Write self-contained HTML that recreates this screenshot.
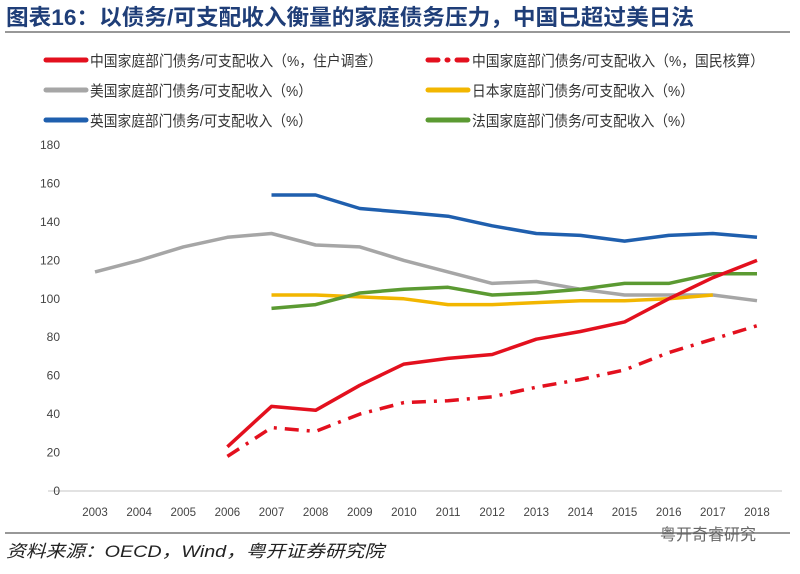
<!DOCTYPE html>
<html><head><meta charset="utf-8"><style>
body{margin:0;background:#fff;width:800px;height:569px;overflow:hidden;font-family:"Liberation Sans","Noto Sans CJK SC",sans-serif}
</style></head><body>
<svg id="c" width="800" height="569" xmlns="http://www.w3.org/2000/svg">
<text x="6" y="25" font-size="22" font-weight="bold" fill="#1f3e78" textLength="688" lengthAdjust="spacingAndGlyphs" font-family="Liberation Sans,Noto Sans CJK SC,sans-serif">图表16：以债务/可支配收入衡量的家庭债务压力，中国已超过美日法</text>
<line x1="5" y1="32" x2="790" y2="32" stroke="#777" stroke-width="1.5"/>
<line x1="5" y1="533" x2="790" y2="533" stroke="#777" stroke-width="1.5"/>
<text x="6" y="557" font-size="17" font-style="italic" fill="#222" textLength="378" lengthAdjust="spacingAndGlyphs" font-family="Liberation Sans,Noto Sans CJK SC,sans-serif">资料来源：OECD，Wind，粤开证券研究院</text>
<text x="660" y="540" font-size="16" fill="#666" font-family="Liberation Sans,Noto Sans CJK SC,sans-serif">粤开奇睿研究</text>
<g id="axes"></g><g id="series"></g><g id="legend"></g>
</svg>
<script>
const years=[2003,2004,2005,2006,2007,2008,2009,2010,2011,2012,2013,2014,2015,2016,2017,2018];
const yTicks=[0,20,40,60,80,100,120,140,160,180];
const chinaSurvey=[null,null,null,23,44,42,55,66,69,71,79,83,88,100,111,120];
const chinaNational=[null,null,null,18,33,31,40,46,47,49,54,58,63,72,79,86];
const usa=[114,120,127,132,134,128,127,120,114,108,109,105,102,102,102,99];
const japan=[null,null,null,null,102,102,101,100,97,97,98,99,99,100,102,null];
const uk=[null,null,null,null,154,154,147,145,143,138,134,133,130,133,134,132];
const france=[null,null,null,null,95,97,103,105,106,102,103,105,108,108,113,113];
const NS="http://www.w3.org/2000/svg";
const x=i=>95+i*44.13, y=v=>491-v*1.922;
function mk(t,a,p){const e=document.createElementNS(NS,t);for(const k in a)e.setAttribute(k,a[k]);p.appendChild(e);return e;}
const ax=document.getElementById('axes');
const al=mk('line',{x1:48,x2:782,y1:491,y2:491,stroke:'#d9d9d9','stroke-width':1.5},ax);


yTicks.forEach(v=>{const t=mk('text',{x:60,y:y(v)+4,'text-anchor':'end','font-size':12,fill:'#444'},ax);t.textContent=v;

});
years.forEach((yr,i)=>{const t=mk('text',{x:x(i),y:516,'text-anchor':'middle','font-size':11.5,fill:'#444'},ax);t.textContent=yr;

});
const seriesDefs=[
 {d:uk,c:'#1f5fae',n:'uk-line'},
 {d:usa,c:'#a6a6a6',n:'usa-line'},
 {d:japan,c:'#f2b600',n:'japan-line'},
 {d:france,c:'#5b9a32',n:'france-line'},
 {d:chinaNational,c:'#e3101e',n:'china-national-line',dash:'14 8 3 8'},
 {d:chinaSurvey,c:'#e3101e',n:'china-survey-line'}];
const sg=document.getElementById('series');
seriesDefs.forEach(s=>{let p='';s.d.forEach((v,i)=>{if(v!=null)p+=(p?'L':'M')+x(i).toFixed(1)+','+y(v).toFixed(1);});
const a={d:p,fill:'none',stroke:s.c,'stroke-width':3.5,'stroke-linejoin':'round'};if(s.dash)a['stroke-dasharray']=s.dash;
const e=mk('path',a,sg);

});
const legendItems=[
 {t:'中国家庭部门债务/可支配收入（%，住户调查）',c:'#e3101e',x:46,y:60,w:292},
 {t:'中国家庭部门债务/可支配收入（%，国民核算）',c:'#e3101e',x:428,y:60,dash:true,w:292},
 {t:'美国家庭部门债务/可支配收入（%）',c:'#a6a6a6',x:46,y:90,w:222},
 {t:'日本家庭部门债务/可支配收入（%）',c:'#f2b600',x:428,y:90,w:222},
 {t:'英国家庭部门债务/可支配收入（%）',c:'#1f5fae',x:46,y:120,w:222},
 {t:'法国家庭部门债务/可支配收入（%）',c:'#5b9a32',x:428,y:120,w:222}];
const lg=document.getElementById('legend');
legendItems.forEach(it=>{const g=mk('g',{},lg);


const la={x1:it.x,x2:it.x+40,y1:it.y,y2:it.y,stroke:it.c,'stroke-width':5,'stroke-linecap':'round'};
if(it.dash)la['stroke-dasharray']='10 9 1 9';
mk('line',la,g);
const t=mk('text',{x:it.x+44,y:it.y+6,'font-size':15,fill:'#333',textLength:it.w,lengthAdjust:'spacingAndGlyphs'},g);t.textContent=it.t;});
</script>
</body></html>
